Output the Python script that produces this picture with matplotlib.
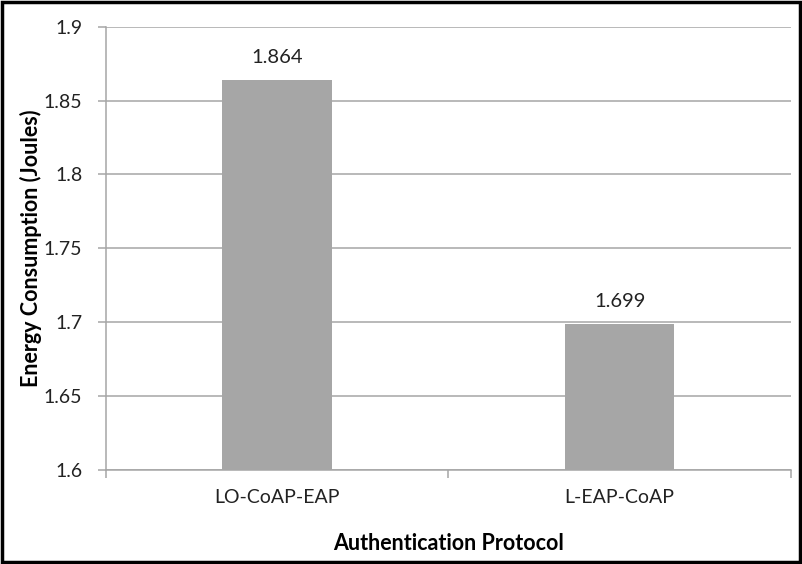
import matplotlib.pyplot as plt
from matplotlib.patches import Rectangle

protocols = ['LO-CoAP-EAP', 'L-EAP-CoAP']
energy = [1.864, 1.699]
y_ticks = [1.6, 1.65, 1.7, 1.75, 1.8, 1.85, 1.9]

plt.rcParams['font.family'] = ['Lato', 'DejaVu Sans']

fig = plt.figure(figsize=(8.02, 5.64), dpi=100)
ax = fig.add_axes([0.1322, 0.1667, 0.854, 0.786])

grid_col = '#a6a6a6'
x = list(range(len(protocols)))
bars = ax.bar(x, [v - 1.6 for v in energy], bottom=1.6, width=0.32,
              color='#a6a6a6', zorder=3)

for xi, v in zip(x, energy):
    ax.text(xi, v + 0.0095, f'{v:.3f}', ha='center', va='bottom',
            fontsize=14.5, color='#222222')

ax.set_xlim(-0.5, len(protocols) - 0.5)
ax.set_ylim(1.6, 1.9)
ax.set_yticks(y_ticks)
ax.set_yticklabels([f'{t:g}' for t in y_ticks], fontsize=14, color='#222222')
ax.yaxis.grid(True, color=grid_col, linewidth=1.1, zorder=0)

# categories: labels centered, ticks at boundaries
ax.set_xticks(x)
ax.set_xticklabels(protocols, fontsize=14, color='#222222')
ax.tick_params(axis='x', length=0, pad=14)
ax.set_xticks([-0.5, 0.5, 1.5], minor=True)
ax.tick_params(axis='x', which='minor', length=6, color=grid_col, width=1.1)
ax.tick_params(axis='y', length=6, color=grid_col, width=1.1, pad=11)

for s in ['top', 'right']:
    ax.spines[s].set_visible(False)
for s in ['left', 'bottom']:
    ax.spines[s].set_color(grid_col)
    ax.spines[s].set_linewidth(1.1)

ax.set_xlabel('Authentication Protocol', fontsize=15.5, fontweight='bold', labelpad=19)
ax.set_ylabel('Energy Consumption (Joules)', fontsize=15.5, fontweight='bold', labelpad=1)

fig.patches.append(Rectangle((0.002, 0.003), 0.996, 0.994, transform=fig.transFigure,
                             fill=False, edgecolor='black', linewidth=2.5))

fig.savefig('out.png', dpi=100)
